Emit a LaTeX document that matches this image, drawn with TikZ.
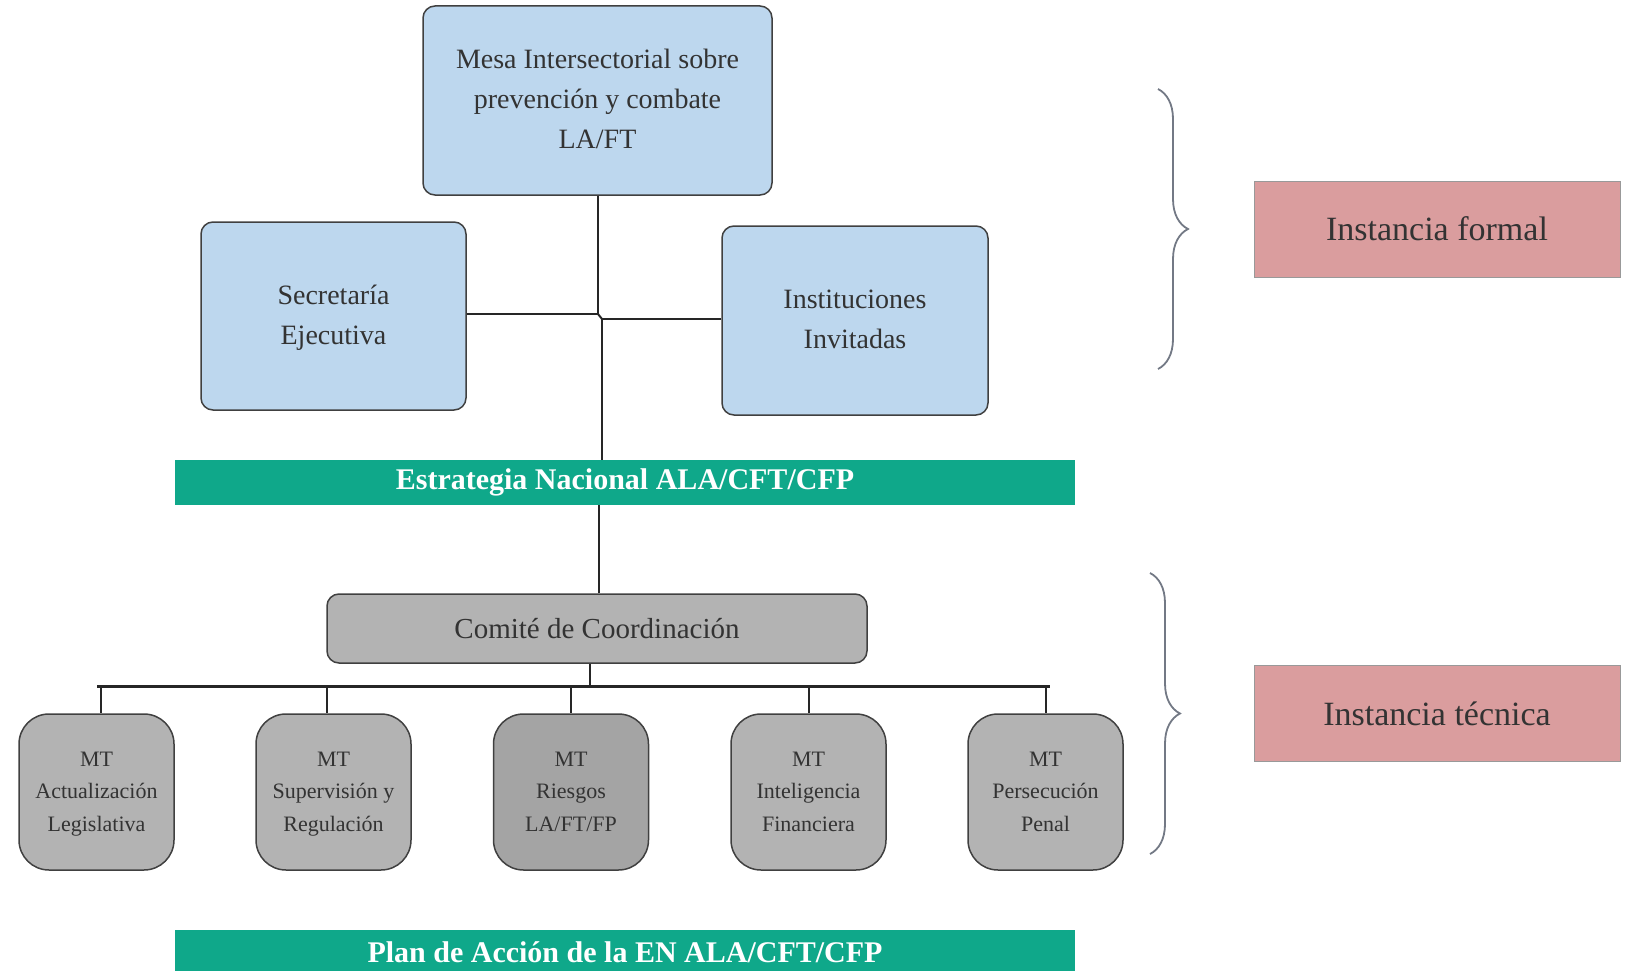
\documentclass[tikz,border=0pt]{standalone}
\usepackage{fontspec}
\setmainfont{Liberation Serif}
\usetikzlibrary{decorations.pathreplacing}
\definecolor{boxblue}{RGB}{189,215,238}
\definecolor{bargreen}{RGB}{15,168,138}
\definecolor{instpink}{RGB}{218,157,158}
\definecolor{mtgray}{RGB}{179,179,179}
\definecolor{mtdark}{RGB}{164,164,164}
\definecolor{edge}{RGB}{64,64,64}
\definecolor{txt}{RGB}{51,51,51}
\definecolor{bracec}{RGB}{115,121,133}
\tikzset{
  bluebox/.style={draw=edge, line width=1.5pt, fill=boxblue, rounded corners=12pt,
    align=center, text=txt, inner sep=0pt, font=\fontsize{28}{40}\selectfont},
  greenbar/.style={fill=bargreen, draw=none, text=white, inner sep=0pt,
    minimum width=900pt, font=\bfseries\fontsize{30}{36}\selectfont},
  combox/.style={draw=edge, line width=1.5pt, fill=mtgray, rounded corners=12pt,
    text=txt, inner sep=0pt, minimum width=540pt, minimum height=69pt,
    font=\fontsize{29}{36}\selectfont},
  mtbox/.style={draw=edge, line width=1.5pt, fill=mtgray, rounded corners=30pt,
    align=center, text=txt, inner sep=0pt, minimum width=155pt, minimum height=156pt,
    font=\fontsize{22}{32.5}\selectfont},
  instbox/.style={draw=gray!80, line width=1pt, fill=instpink, text=txt, inner sep=0pt,
    minimum width=366pt, minimum height=96pt, font=\fontsize{34}{40}\selectfont},
  conn/.style={draw=black!85, line width=2pt},
  bus/.style={draw=black!85, line width=3pt},
  bracestyle/.style={draw=bracec, line width=1.8pt, decorate,
    decoration={brace, amplitude=30pt}},
}
\begin{document}
\begin{tikzpicture}[x=1pt, y=-1pt]
\useasboundingbox (0,0) rectangle (1625,971);

% top level
\node[bluebox, minimum width=349pt, minimum height=189pt] (mesa) at (597.5,100.5)
  {\strut Mesa Intersectorial sobre\\prevención y combate\\LA/FT\strut};
\node[bluebox, minimum width=265pt, minimum height=188pt] (sec) at (333.5,316)
  {\strut Secretaría\\Ejecutiva\strut};
\node[bluebox, minimum width=266pt, minimum height=189pt] (inst) at (855,320.5)
  {\strut Instituciones\\Invitadas\strut};

\node[greenbar, minimum height=45pt] (estr) at (625,482.5) {Estrategia Nacional ALA/CFT/CFP};

\coordinate (j1) at (598,314);
\coordinate (j2) at (602,319);
\draw[conn] (mesa.south -| j1) -- (j1);
\draw[conn] (sec.east |- j1) -- (j1);
\draw[conn] (j1) -- (j2);
\draw[conn] (inst.west |- j2) -- (j2);
\draw[conn] (j2) -- (j2 |- estr.north);

% technical level
\node[combox] (com) at (597,628.5) {Comité de Coordinación};
\draw[conn] (com.north -| 599,0) -- (estr.south -| 599,0);

\node[mtbox] (mt1) at (96.5,792) {\strut MT\\Actualización\\Legislativa\strut};
\node[mtbox] (mt2) at (333.5,792) {\strut MT\\Supervisión y\\Regulación\strut};
\node[mtbox, fill=mtdark] (mt3) at (571,792) {\strut MT\\Riesgos\\LA/FT/FP\strut};
\node[mtbox] (mt4) at (808.5,792) {\strut MT\\Inteligencia\\Financiera\strut};
\node[mtbox] (mt5) at (1045.5,792) {\strut MT\\Persecución\\Penal\strut};

\coordinate (busL) at (97,686);
\coordinate (busR) at (1050,686);
\draw[bus] (busL) -- (busR);
\draw[conn] (com.south -| 590,0) -- (590,686);
\draw[conn] ([xshift=4pt]mt1.north |- busL) -- ([xshift=4pt]mt1.north);
\draw[conn] ([xshift=-7pt]mt2.north |- busL) -- ([xshift=-7pt]mt2.north);
\draw[conn] (mt3.north |- busL) -- (mt3.north);
\draw[conn] (mt4.north |- busL) -- (mt4.north);
\draw[conn] (mt5.north |- busL) -- (mt5.north);

\node[greenbar, minimum height=44pt] (plan) at (625,952) {Plan de Acción de la EN ALA/CFT/CFP};

% braces and labels
\coordinate (b1t) at (1158,89);
\coordinate (b1b) at (1158,369);
\coordinate (b2t) at (1150,573);
\coordinate (b2b) at (1150,854);
\draw[bracestyle] (b1t) -- (b1b);
\draw[bracestyle] (b2t) -- (b2b);

\node[instbox] (formal) at (1437,229) {Instancia formal};
\node[instbox] (tecnica) at (1437,713.5) {Instancia técnica};
\end{tikzpicture}
\end{document}
